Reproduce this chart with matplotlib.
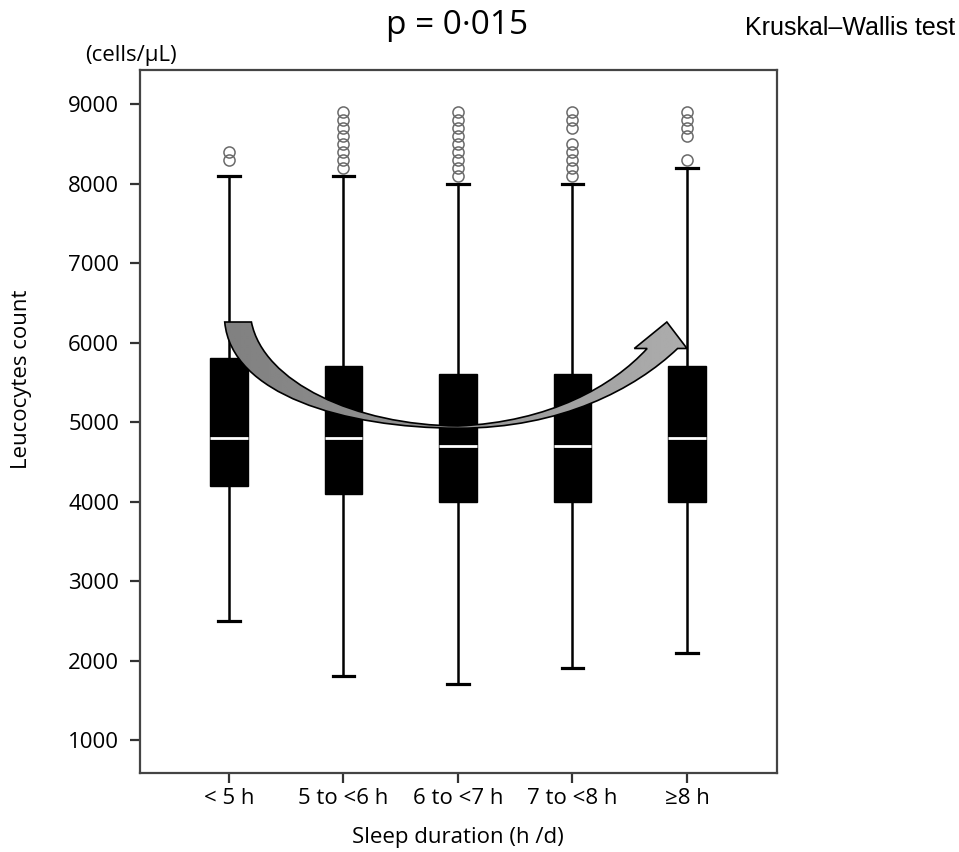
import numpy as np
import matplotlib
matplotlib.use("Agg")
import matplotlib.pyplot as plt
from matplotlib.path import Path
from matplotlib.patches import PathPatch

# ---------------- data ----------------
categories = ['< 5 h', '5 to <6 h', '6 to <7 h', '7 to <8 h', '\u22658 h']
whisker_low = [2500, 1800, 1700, 1900, 2100]
q1_values = [4200, 4100, 4000, 4000, 4000]
medians = [4800, 4800, 4700, 4700, 4800]
q3_values = [5800, 5700, 5600, 5600, 5700]
whisker_high = [8100, 8100, 8000, 8000, 8200]
outliers = [
    [8300, 8400],
    [8200, 8300, 8400, 8500, 8600, 8700, 8800, 8900],
    [8100, 8200, 8300, 8400, 8500, 8600, 8700, 8800, 8900],
    [8100, 8200, 8300, 8400, 8500, 8700, 8800, 8900],
    [8300, 8600, 8700, 8800, 8900],
]
yticks = [1000, 2000, 3000, 4000, 5000, 6000, 7000, 8000, 9000]

plt.rcParams['font.family'] = ['Open Sans', 'DejaVu Sans']

fig = plt.figure(figsize=(9.59, 8.52), dpi=100)
ax = fig.add_axes([140/959, 1-773/852, (777-140)/959, (773-70)/852])

stats = []
for i in range(len(categories)):
    stats.append(dict(med=medians[i], q1=q1_values[i], q3=q3_values[i],
                      whislo=whisker_low[i], whishi=whisker_high[i],
                      fliers=outliers[i], label=categories[i]))

positions = np.arange(1, len(categories) + 1)
ax.bxp(stats, positions=positions, widths=0.33, patch_artist=True,
       showfliers=True, capwidths=0.19,
       boxprops=dict(facecolor='black', edgecolor='black', linewidth=1),
       medianprops=dict(color='white', linewidth=2),
       whiskerprops=dict(color='black', linewidth=1.8),
       capprops=dict(color='black', linewidth=2.3),
       flierprops=dict(marker='o', markerfacecolor='none',
                       markeredgecolor='#6a6a6a', markersize=8,
                       markeredgewidth=1.1))

# ---------------- curved arrow annotation ----------------
verts = [
    (0.963, 6258),
    (1.02, 5350), (2.0, 4925), (3.0, 4922),
    (3.9, 4920), (4.55, 5420), (4.918, 5925),
    (5.0, 5925),
    (4.824, 6258),
    (4.54, 5925),
    (4.652, 5925),
    (4.35, 5450), (3.8, 5000), (3.0, 4950),
    (2.1, 4960), (1.3, 5500), (1.196, 6258),
    (0.963, 6258),
]
codes = [Path.MOVETO,
         Path.CURVE4, Path.CURVE4, Path.CURVE4,
         Path.CURVE4, Path.CURVE4, Path.CURVE4,
         Path.LINETO, Path.LINETO, Path.LINETO, Path.LINETO,
         Path.CURVE4, Path.CURVE4, Path.CURVE4,
         Path.CURVE4, Path.CURVE4, Path.CURVE4,
         Path.CLOSEPOLY]
arrow_path = Path(verts, codes)
patch = PathPatch(arrow_path, facecolor='none', edgecolor='black',
                  linewidth=1.2, zorder=6)
ax.add_patch(patch)
grad = np.linspace(0.50, 0.68, 256).reshape(1, -1)
im = ax.imshow(grad, cmap='gray', vmin=0, vmax=1, aspect='auto',
               extent=[0.9, 5.05, 4850, 6300], zorder=5, interpolation='bilinear')
im.set_clip_path(PathPatch(arrow_path, transform=ax.transData))

# ---------------- axes styling ----------------
ax.set_xlim(0.223, 5.786)
ax.set_ylim(585, 9428)
ax.set_yticks(yticks)
ax.set_yticklabels([str(v) for v in yticks])
ax.set_xticks(positions)
ax.set_xticklabels(categories)
ax.tick_params(axis='both', direction='out', length=7, width=1.6,
               color='#333333', labelsize=16, pad=4)
ax.tick_params(axis='y', pad=8)
for s in ax.spines.values():
    s.set_color('#444444')
    s.set_linewidth(1.6)

fig.text(458/959, 1-838/852, 'Sleep duration (h /d)', fontsize=16,
         ha='center', va='center')
fig.text(22/959, 1-379/852, 'Leucocytes count', rotation=90, fontsize=16,
         ha='center', va='center')
fig.text(131/959, 1-55/852, '(cells/\u03bcL)', fontsize=16, ha='center', va='center')
fig.text(457/959, 1-25/852, 'p = 0\u00b7015', fontsize=24, ha='center', va='center')
fig.text(850/959, 1-28/852, 'Kruskal\u2013Wallis test', fontsize=18,
         family=['Liberation Sans', 'DejaVu Sans'],
         ha='center', va='center')

fig.savefig('out.png', dpi=100)
